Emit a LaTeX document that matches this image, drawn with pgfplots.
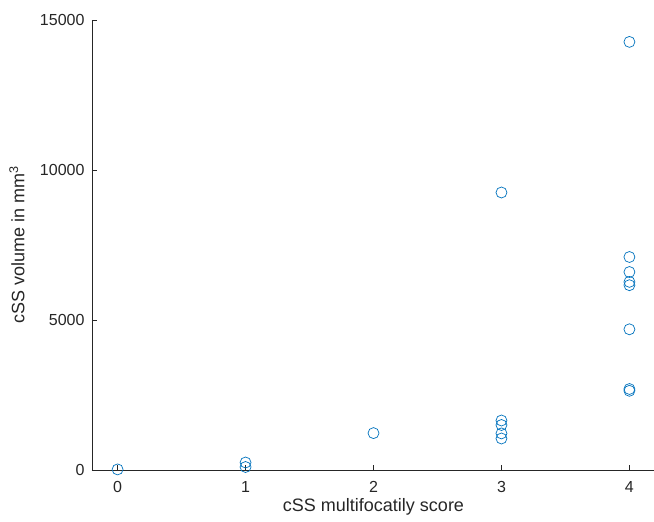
\documentclass[border=0pt]{standalone}
\usepackage{pgfplots}
\pgfplotsset{compat=1.18}
\usepackage{fontspec}
\setmainfont{Liberation Sans}
\definecolor{mblue}{rgb}{0,0.447,0.741}
\definecolor{axgray}{rgb}{0.15,0.15,0.15}
\begin{document}
\begin{tikzpicture}
\begin{axis}[
    scale only axis,
    width=563pt, height=450pt,
    xmin=-0.2, xmax=4.2,
    ymin=0, ymax=15000,
    xtick={0,1,2,3,4},
    ytick={0,5000,10000,15000},
    axis x line*=bottom,
    axis y line*=left,
    axis line style={axgray, line width=0.8pt},
    tick style={axgray, line width=0.6pt},
    tick align=inside,
    major tick length=5pt,
    scaled y ticks=false,
    /pgf/number format/assume math mode=true,
    yticklabel style={/pgf/number format/1000 sep={}, xshift=-4pt},
    xticklabel style={yshift=-8pt},
    ticklabel style={font=\fontsize{16}{19}\selectfont, text=axgray},
    label style={font=\fontsize{18}{21}\selectfont, text=axgray},
    xlabel={cSS multifocatily score},
    ylabel={cSS volume in mm\textsuperscript{3}},
    xlabel style={at={(rel axis cs:0.5,0)}, anchor=center, yshift=-37pt},
    ylabel style={at={(rel axis cs:0,0.5)}, anchor=center, yshift=75pt},
    clip=false,
]
\addplot[only marks, mark=o, mark size=5.5pt, mblue, mark options={line width=0.7pt}]
    table {
    0  20
    1  250
    1  100
    2  1230
    3  9250
    3  1650
    3  1500
    3  1220
    3  1050
    4  14270
    4  7100
    4  6600
    4  6270
    4  6160
    4  4690
    4  2700
    4  2640
    };
\coordinate (sw) at (rel axis cs:0,0);
\coordinate (ne) at (rel axis cs:1,1);
\end{axis}
\pgfresetboundingbox
\path ([shift={(-92pt,-51pt)}]sw) rectangle ([shift={(-1pt,20pt)}]ne);
\end{tikzpicture}
\end{document}
